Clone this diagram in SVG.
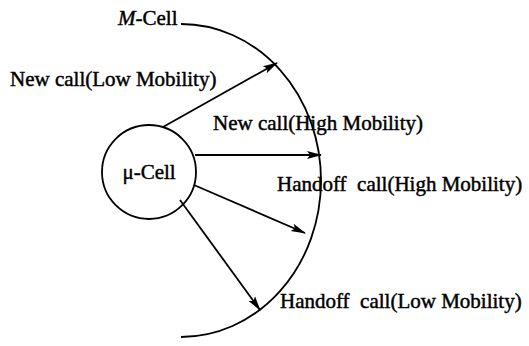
<svg xmlns="http://www.w3.org/2000/svg" width="529" height="346" viewBox="0 0 529 346">
  <style>
    .t { font-family: "Liberation Serif", "Times New Roman", Times, serif; font-size: 21px; fill: #000; stroke: #000; stroke-width: 0.45px; }
    .ln { stroke: #000; stroke-width: 1.8; fill: none; }
  </style>
  <defs>
    <marker id="ah" viewBox="0 0 15 10" refX="14" refY="5" markerWidth="15" markerHeight="10" markerUnits="userSpaceOnUse" orient="auto">
      <path d="M0,1 L15,5 L0,9 L3,5 Z" fill="#000"/>
    </marker>
  </defs>
  <rect width="529" height="346" fill="#fff"/>
  <g id="m-cell">
    <path class="ln" d="M181,24 A140,156.5 0 0 1 181,337"/>
    <text class="t" x="118" y="25"><tspan font-style="italic">M</tspan>-Cell</text>
  </g>
  <g id="u-cell">
    <circle class="ln" cx="149" cy="172" r="47"/>
    <text class="t" x="149" y="179" text-anchor="middle">μ-Cell</text>
  </g>
  <g id="connectors">
    <line class="ln" x1="163" y1="127" x2="277" y2="63" marker-end="url(#ah)"/>
    <line class="ln" x1="195" y1="155" x2="321" y2="155" marker-end="url(#ah)"/>
    <line class="ln" x1="194" y1="185" x2="305" y2="233" marker-end="url(#ah)"/>
    <line class="ln" x1="180" y1="200" x2="260" y2="310" marker-end="url(#ah)"/>
  </g>
  <g id="labels">
    <text class="t" x="10" y="86">New call(Low Mobility)</text>
    <text class="t" x="213" y="130">New call(High Mobility)</text>
    <text class="t" x="277" y="191" xml:space="preserve">Handoff  call(High Mobility)</text>
    <text class="t" x="280" y="308" xml:space="preserve">Handoff  call(Low Mobility)</text>
  </g>
</svg>
